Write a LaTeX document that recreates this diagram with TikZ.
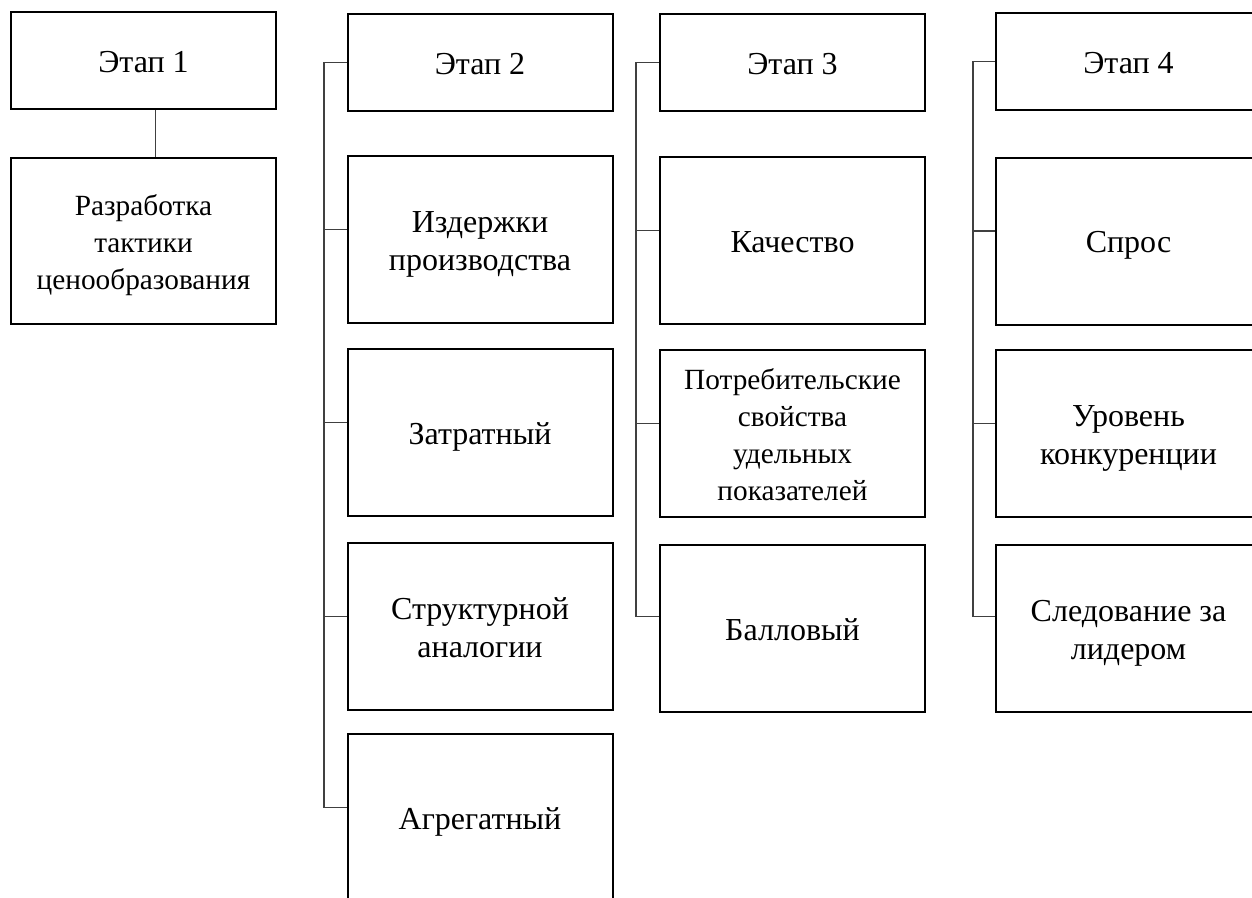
\documentclass[tikz,border=0pt]{standalone}
\usepackage{fontspec}
\setmainfont{Liberation Serif}
\newcommand{\mystrut}{\rule[-9pt]{0pt}{35pt}}
\begin{document}
\begin{tikzpicture}[x=1pt,y=-1pt,
  stagebox/.style={draw=black, line width=2pt, minimum width=265pt, inner sep=0pt},
  lbl/.style={align=center, inner sep=0pt, yshift=-3pt, font=\fontsize{32}{38}\selectfont},
  lblsm/.style={lbl, font=\fontsize{29.3}{36.7}\selectfont},
  hdr/.style={stagebox, minimum height=97pt},
  tall/.style={stagebox, minimum height=167pt},
  conn/.style={draw=black!75, line width=1.3pt}]
\useasboundingbox (0,0) rectangle (1252,897);
\clip (0,0) rectangle (1252,897);
\fill[white] (0,0) rectangle (1252,897);
% column 1
\node[hdr, label={[lbl]center:\mystrut Этап 1}]  (e1) at (143.5,60.5) {};
\node[tall, minimum height=166pt, label={[lblsm]center:\mystrut Разработка\\\mystrut тактики\\\mystrut ценообразования}] (r1) at (143.5,241) {};
% column 2
\node[hdr, label={[lbl]center:\mystrut Этап 2}]  (e2) at (480,62.5) {};
\node[tall, label={[lbl]center:\mystrut Издержки\\\mystrut производства}] (a2) at (480,239.5) {};
\node[tall, label={[lbl]center:\mystrut Затратный}] (b2) at (480,432.5) {};
\node[tall, label={[lbl]center:\mystrut Структурной\\\mystrut аналогии}] (c2) at (480,626.5) {};
\node[tall, label={[lbl]center:\mystrut Агрегатный}] (d2) at (480,817.5) {};
% column 3
\node[hdr, label={[lbl]center:\mystrut Этап 3}]  (e3) at (792.5,62.5) {};
\node[tall, label={[lbl]center:\mystrut Качество}] (a3) at (792.5,240.5) {};
\node[tall, label={[lblsm]center:\mystrut Потребительские\\\mystrut свойства\\\mystrut удельных\\\mystrut показателей}] (b3) at (792.5,433.5) {};
\node[tall, label={[lbl]center:\mystrut Балловый}] (c3) at (792.5,628.5) {};
% column 4
\node[hdr, label={[lbl]center:\mystrut Этап 4}]  (e4) at (1128.5,61.5) {};
\node[tall, label={[lbl]center:\mystrut Спрос}] (a4) at (1128.5,241) {};
\node[tall, label={[lbl]center:\mystrut Уровень\\\mystrut конкуренции}] (b4) at (1128.5,433.5) {};
\node[tall, label={[lbl]center:\mystrut Следование за\\\mystrut лидером}] (c4) at (1128.5,628.5) {};
% bus coordinates
\coordinate (v2) at (324,0);
\coordinate (v3) at (636,0);
\coordinate (v4) at (973,0);
% connectors
\draw[conn] ([xshift=12pt]e1.south) -- ([xshift=12pt]r1.north);
\draw[conn] (e2.west) -- (e2.west -| v2) -- ([yshift=10pt]d2.west -| v2) -- ([yshift=10pt]d2.west);
\foreach \n in {a2,b2,c2}{\draw[conn] ([yshift=10pt]\n.west) -- ([yshift=10pt]\n.west -| v2);}
\draw[conn] (e3.west) -- (e3.west -| v3) -- ([yshift=12pt]c3.west -| v3) -- ([yshift=12pt]c3.west);
\foreach \n in {a3,b3}{\draw[conn] ([yshift=10pt]\n.west) -- ([yshift=10pt]\n.west -| v3);}
\draw[conn] (e4.west) -- (e4.west -| v4) -- ([yshift=12pt]c4.west -| v4) -- ([yshift=12pt]c4.west);
\foreach \n in {a4,b4}{\draw[conn] ([yshift=10pt]\n.west) -- ([yshift=10pt]\n.west -| v4);}
\end{tikzpicture}
\end{document}
